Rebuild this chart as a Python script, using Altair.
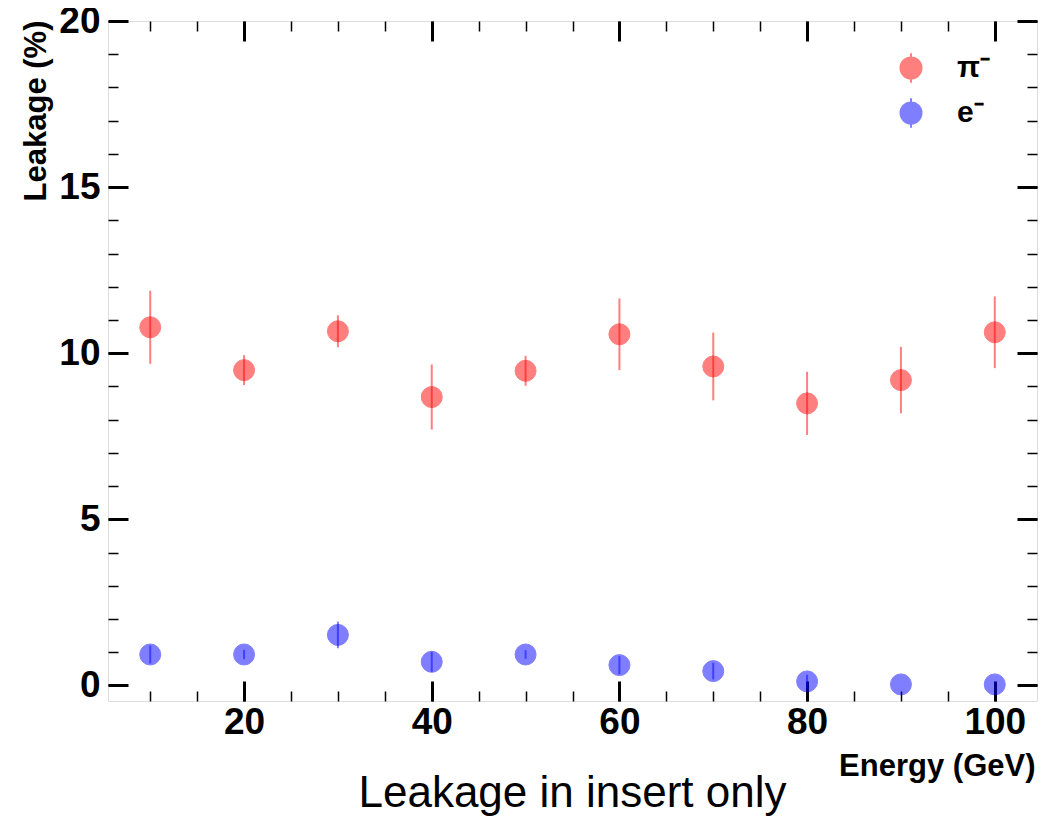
import altair as alt
import pandas as pd

# ---- data ----
energy = [10, 20, 30, 40, 50, 60, 70, 80, 90, 100]
pi_leak = [10.78, 9.49, 10.66, 8.68, 9.47, 10.57, 9.60, 8.49, 9.19, 10.63]
pi_err = [1.10, 0.45, 0.48, 0.98, 0.45, 1.08, 1.02, 0.95, 1.00, 1.08]
e_leak = [0.93, 0.93, 1.52, 0.71, 0.93, 0.61, 0.43, 0.12, 0.03, 0.03]
e_err = [0.27, 0.14, 0.40, 0.30, 0.13, 0.27, 0.25, 0.20, 0.00, 0.00]
series_names = ["π⁻", "e⁻"]
series_colors = ["#ff0000", "#0000ff"]
x_major = [20, 40, 60, 80, 100]
x_minor = list(range(10, 101, 5))
y_major = [0, 5, 10, 15, 20]
y_minor = list(range(0, 21))
x_domain = [5.5, 104.5]
y_domain = [-0.47, 20]

rows = []
for name, vals, errs in [(series_names[0], pi_leak, pi_err), (series_names[1], e_leak, e_err)]:
    for e, v, s in zip(energy, vals, errs):
        rows.append({"series": name, "energy": e, "value": v, "lo": v - s, "hi": v + s})
df = pd.DataFrame(rows)

FONT = "Liberation Sans"
W, H = 929, 680


def make_axis(orient, values, major, labels=False, **extra):
    size = 20 if major else 10
    p = dict(orient=orient, values=values, tickSize=size, offset=-size,
             tickWidth=3 if major else 1.5, tickColor="black", domain=False,
             grid=False, labels=labels, ticks=True)
    if labels:
        p.update(labelFont=FONT, labelFontSize=37, labelFontWeight="bold",
                 labelColor="black", labelOverlap=False, labelFlush=False)
    if "title" not in extra:
        p["title"] = None
    p.update(extra)
    return alt.Axis(**p)


xscale = alt.Scale(domain=x_domain, nice=False, zero=False)
yscale = alt.Scale(domain=y_domain, nice=False, zero=False)
cscale = alt.Scale(domain=series_names, range=series_colors)

legend_symbol = "M-1,0A1,1 0 1,1 1,0A1,1 0 1,1 -1,0Z M0,-1.4L0,1.4"
legend = alt.Legend(title=None, orient="none", legendX=788, legendY=32,
                    symbolType=legend_symbol, symbolSize=441, symbolStrokeWidth=2,
                    symbolOpacity=0.5, labelFont=FONT, labelFontSize=30,
                    labelFontWeight="bold", labelColor="black", labelOffset=31,
                    rowPadding=7, padding=0, direction="vertical")

ax_bottom_major = make_axis("bottom", x_major, True, labels=True, labelPadding=3,
                            title="Energy (GeV)", titleFont=FONT, titleFontSize=31,
                            titleFontWeight="bold", titleColor="black",
                            titleX=927, titleY=94, titleAlign="right",
                            titleBaseline="alphabetic")
ax_left_major = make_axis("left", y_major, True, labels=True, labelPadding=8,
                          title="Leakage (%)", titleFont=FONT, titleFontSize=31,
                          titleFontWeight="bold", titleColor="black",
                          titleX=-83, titleY=-1, titleAngle=270, titleAlign="right",
                          titleBaseline="alphabetic")
ax_bottom_minor = make_axis("bottom", x_minor, False)
ax_left_minor = make_axis("left", y_minor, False)
ax_top_major = make_axis("top", x_major, True)
ax_right_major = make_axis("right", y_major, True)
ax_top_minor = make_axis("top", x_minor, False)
ax_right_minor = make_axis("right", y_minor, False)

base = alt.Chart(df)
stroke_enc = alt.Stroke("series:N", scale=cscale, legend=legend, sort=series_names)
fill_enc = alt.Fill("series:N", scale=cscale, legend=legend, sort=series_names)

red = base.transform_filter(alt.datum.series == series_names[0])
blue = base.transform_filter(alt.datum.series == series_names[1])

red_err = red.mark_rule(strokeWidth=2, opacity=0.5).encode(
    x=alt.X("energy:Q", scale=xscale, axis=ax_bottom_major),
    y=alt.Y("lo:Q", scale=yscale, axis=ax_left_major),
    y2="hi:Q",
    stroke=stroke_enc,
)
red_pts = red.mark_circle(size=441, opacity=0.5, strokeWidth=1).encode(
    x=alt.X("energy:Q", scale=xscale, axis=ax_bottom_minor),
    y=alt.Y("value:Q", scale=yscale, axis=ax_left_minor),
    fill=fill_enc,
    stroke=stroke_enc,
)
blue_err = blue.mark_rule(strokeWidth=2, opacity=0.5).encode(
    x=alt.X("energy:Q", scale=xscale, axis=ax_top_major),
    y=alt.Y("lo:Q", scale=yscale, axis=ax_right_major),
    y2="hi:Q",
    stroke=stroke_enc,
)
blue_pts = blue.mark_circle(size=441, opacity=0.5, strokeWidth=1).encode(
    x=alt.X("energy:Q", scale=xscale, axis=ax_top_minor),
    y=alt.Y("value:Q", scale=yscale, axis=ax_right_minor),
    fill=fill_enc,
    stroke=stroke_enc,
)

chart = (
    alt.layer(red_err, red_pts, blue_err, blue_pts)
    .resolve_axis(x="independent", y="independent")
    .properties(
        width=W,
        height=H,
        autosize=alt.AutoSizeParams(type="none"),
        padding={"left": 100, "top": 13, "right": 14, "bottom": 125},
        title=alt.TitleParams(
            "Leakage in insert only", orient="bottom", frame="group", anchor="middle",
            offset=-9, baseline="top", font=FONT, fontSize=44,
            fontWeight="normal", color="black",
        ),
    )
    .configure_view(stroke="black", strokeWidth=2)
    .configure(background="white")
)

chart.save("out.html", embed_options={"renderer": "svg", "actions": False})
